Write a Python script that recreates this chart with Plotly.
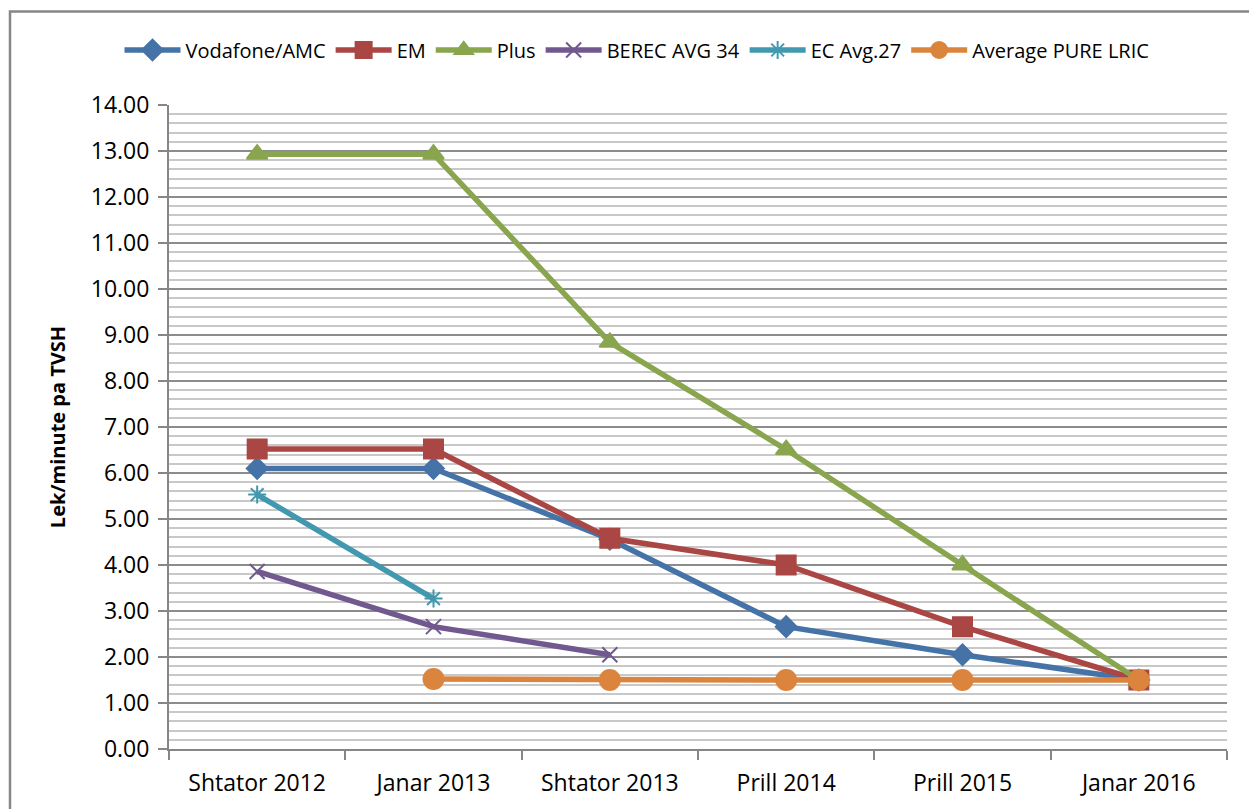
import plotly.graph_objects as go

categories = ["Shtator 2012", "Janar 2013", "Shtator 2013", "Prill 2014", "Prill 2015", "Janar 2016"]
vodafone = [6.10, 6.10, 4.56, 2.66, 2.05, 1.50]
em = [6.52, 6.52, 4.58, 4.00, 2.66, 1.50]
plus = [12.93, 12.93, 8.84, 6.51, 4.00, 1.50]
berec = [3.86, 2.66, 2.05, None, None, None]
ec = [5.53, 3.27, None, None, None, None]
lric = [None, 1.52, 1.50, 1.50, 1.50, 1.50]

series = [
    ("Vodafone/AMC", vodafone, "#4573A7", "diamond", 16),
    ("EM", em, "#AA4643", "square", 19),
    ("Plus", plus, "#89A54E", "triangle-up", 18),
    ("BEREC AVG 34", berec, "#71588F", "x-thin-open", 15),
    ("EC Avg.27", ec, "#4198AF", "asterisk-open", 15),
    ("Average PURE LRIC", lric, "#DB843D", "circle", 20),
]

FONT = "Open Sans"
fig = go.Figure()
for name, vals, color, sym, size in series:
    fig.add_trace(go.Scatter(
        x=categories, y=vals, name=name, mode="lines+markers",
        line=dict(color=color, width=5.5),
        marker=dict(symbol=sym, size=size, color=color,
                    line=dict(color=color, width=2)),
        connectgaps=False,
    ))

fig.update_layout(
    width=1249, height=809,
    paper_bgcolor="white", plot_bgcolor="white",
    margin=dict(l=169, r=22, t=105, b=60, autoexpand=False),
    font=dict(family=FONT, size=23, color="black"),
    legend=dict(orientation="h", xref="container", x=0.51, xanchor="center",
                y=1.0854, yanchor="middle",
                font=dict(size=20), itemwidth=56, tracegroupgap=0,
                bgcolor="rgba(0,0,0,0)"),
    xaxis=dict(
        type="category", showgrid=False, showline=True, linecolor="#868686", linewidth=2,
        ticks="outside", tickson="boundaries", ticklen=9, tickcolor="#868686", tickwidth=2,
        tickfont=dict(size=23), range=[-0.5, 5.5], automargin=False,
        ticklabelstandoff=12,
    ),
    yaxis=dict(
        range=[0, 14], dtick=1, tickformat=".2f",
        showgrid=True, gridcolor="#8C8C8C", gridwidth=1.5,
        showline=True, linecolor="#868686", linewidth=2,
        ticks="outside", ticklen=9, tickcolor="#868686", tickwidth=2,
        tickfont=dict(size=23), automargin=False, ticklabelstandoff=4,
        minor=dict(dtick=0.2, showgrid=True, gridcolor="#C8C8C8", gridwidth=1.5),
        title=dict(text="<b>Lek/minute pa TVSH</b>", font=dict(size=20), standoff=20),
        zeroline=False,
    ),
    showlegend=True,
)

fig.add_shape(type="rect", xref="paper", yref="paper",
              x0=(10 - 169) / 1058, x1=1.05, y0=-0.2, y1=(749 - 11.5) / 644,
              line=dict(color="#868686", width=2.5), fillcolor="rgba(0,0,0,0)", layer="below")

fig.write_html("out.html", post_script="document.body.style.margin='0';",
               config={"displayModeBar": False})
